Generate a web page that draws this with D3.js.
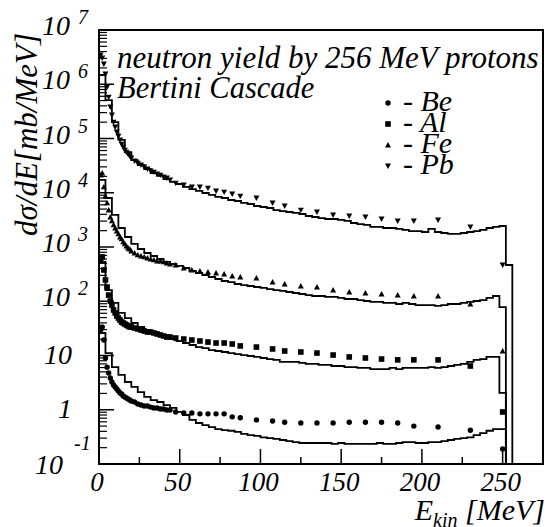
<!DOCTYPE html>
<html>
<head>
<meta charset="utf-8">
<title>neutron yield by 256 MeV protons</title>
<script src="https://d3js.org/d3.v7.min.js"></script>
<style>
  body { margin: 0; background: #fff; }
</style>
</head>
<body>
<svg width="552" height="527" id="mainsvg"></svg>
<script>
// lower edges of the 4 MeV bins of the Bertini cascade histograms
const binLow = [0,4,8,12,16,20,24,28,32,36,40,44,48,52,56,60,64,68,72,76,80,84,88,92,96,100,
  104,108,112,116,120,124,128,132,136,140,144,148,152,156,160,164,168,172,176,180,184,188,
  192,196,200,204,208,212,216,220,224,228,232,236,240,244,248,252];
const binWidth = 4;

// simulated spectra (scaled per target), mb/MeV
const histPb = [1.48e6,5.1e5,2.0e5,9.4e4,5.6e4,4.0e4,3.25e4,2.74e4,2.31e4,2.04e4,1.79e4,1.58e4,
  1.45e4,1.28e4,1.17e4,1.08e4,9.9e3,9.1e3,8.4e3,8.0e3,7.35e3,7.05e3,6.5e3,6.2e3,5.7e3,5.46e3,
  5.24e3,4.8e3,4.6e3,4.42e3,4.24e3,4.06e3,3.73e3,3.57e3,3.42e3,3.28e3,3.28e3,3.15e3,3.02e3,
  2.77e3,2.65e3,2.55e3,2.34e3,2.34e3,2.24e3,2.24e3,2.15e3,2.06e3,1.97e3,1.97e3,1.89e3,2.15e3,
  1.89e3,1.81e3,1.74e3,1.74e3,1.81e3,1.89e3,1.97e3,2.06e3,2.24e3,2.34e3,2.44e3,466];
const histFe = [1.72e4,8.0e3,3.9e3,2.24e3,1.53e3,1.14e3,918,776,683,601,530,486,447,410,361,332,
  305,280,257,236,226,208,199,191,183,176,168,161,155,148,142,136,130,125,125,120,120,115,110,
  110,105,101,97,97,93,93,89,93,89,85,85,85,82,85,89,89,93,97,101,105,115,125,78,0];
const histAl = [530,161,93,61,49,39.7,33.5,29.5,27.1,23.9,21.9,20.1,18.5,17.0,15.6,14.3,13.7,12.6,
  12.1,11.6,11.1,10.6,10.2,9.8,9.4,9.0,8.6,8.3,7.6,7.6,7.6,7.3,7.0,7.0,6.7,6.7,6.4,6.4,6.1,6.1,
  5.9,5.9,5.6,5.6,5.6,5.9,5.6,5.9,5.9,5.9,5.9,6.1,5.9,6.1,6.4,6.7,7.0,7.6,8.3,8.6,9.4,9.4,2.04,0];
const histBe = [26,11.1,6.1,4.4,3.25,2.63,2.12,1.72,1.51,1.39,1.22,1.08,0.91,0.80,0.65,0.57,0.52,
  0.48,0.44,0.42,0.41,0.39,0.36,0.34,0.33,0.31,0.30,0.29,0.277,0.265,0.254,0.244,0.244,0.244,
  0.244,0.244,0.234,0.244,0.234,0.234,0.234,0.234,0.234,0.244,0.234,0.234,0.244,0.254,0.254,
  0.244,0.244,0.254,0.254,0.265,0.277,0.29,0.30,0.31,0.34,0.37,0.41,0.44,0.44,0];

// measured points: neutron energies (MeV)
const dataE = [1,2,3,4,5,6,7,8,9,10,11,12,13,14,15,16,17,18,19,20,22,24,26,28,30,32,34,36,38,40,
  42,44,47.5,52.5,57.5,62.5,67.5,72.5,77.5,82.5,87.5,97.5,107.5,115,125,135,145,155,165,175,185,
  195,210,230,250];
const dataPb = [3.46e6,3.05e6,2.36e6,1.55e6,8.9e5,5.8e5,3.81e5,2.71e5,2.01e5,1.63e5,1.32e5,1.11e5,
  9.4e4,7.9e4,7.0e4,6.1e4,5.6e4,5.2e4,4.75e4,4.37e4,3.85e4,3.53e4,3.25e4,2.98e4,2.74e4,2.52e4,
  2.41e4,2.22e4,2.12e4,1.95e4,1.87e4,1.72e4,1.51e4,1.39e4,1.28e4,1.28e4,1.22e4,1.08e4,1.03e4,
  9.5e3,8.7e3,8.0e3,6.5e3,5.7e3,4.8e3,4.42e3,3.89e3,3.73e3,3.57e3,3.28e3,3.02e3,3.02e3,3.15e3,
  2.34e3,466];
const dataFe = [2.12e4,2.31e4,1.28e4,8.7e3,6.5e3,4.8e3,3.57e3,3.02e3,2.55e3,2.24e3,1.97e3,1.74e3,
  1.53e3,1.41e3,1.24e3,1.14e3,1.04e3,959,919,844,776,713,683,655,627,601,577,552,552,530,507,486,
  466,410,377,361,346,332,318,292,280,268,226,208,191,183,161,148,142,136,130,125,125,89,12.1];
const dataAl = [575,655,377,247,183,130,101,85,69,61,53.5,49.1,45.1,41.5,39.7,38.1,36.5,35.0,33.6,
  33.6,32.1,30.8,29.5,28.3,27.1,27.1,26.0,24.9,23.9,22.9,21.9,21.9,21.0,20.1,19.3,18.5,17.7,17.0,
  17.0,16.3,15.0,14.3,13.2,12.1,11.6,11.1,10.2,9.4,9.0,8.6,8.3,8.3,8.3,6.4,0.91];
const dataBe = [29.5,33.6,19.3,9.0,6.1,4.75,3.85,3.25,2.86,2.63,2.41,2.22,2.04,1.95,1.79,1.72,1.65,
  1.58,1.51,1.45,1.39,1.28,1.22,1.17,1.17,1.12,1.08,1.08,1.03,1.03,0.99,0.99,0.91,0.87,0.87,0.84,
  0.84,0.84,0.84,0.74,0.71,0.65,0.62,0.59,0.57,0.57,0.57,0.59,0.59,0.59,0.57,0.50,0.48,0.42,0.19];

const legendNames = ['Be', 'Al', 'Fe', 'Pb'];
const xTicks = [0, 50, 100, 150, 200, 250];
const yExponents = [-1, 0, 1, 2, 3, 4, 5, 6, 7];

const FONT = 'Liberation Serif';
const svg = d3.select('#mainsvg');
const width = +svg.attr('width');
const height = +svg.attr('height');
const margin = {top: 30, right: 9, bottom: 63, left: 99};
const innerWidth = width - margin.left - margin.right;
const innerHeight = height - margin.top - margin.bottom;

// every text goes through here so the serif italic face is set on the element itself
function label(parent, x, y, size, str) {
  return parent.append('text').attr('x', x).attr('y', y)
    .attr('font-family', FONT).attr('font-style', 'italic')
    .attr('font-size', size).attr('fill', '#000').text(str);
}

svg.append('rect').attr('width', width).attr('height', height).attr('fill', '#fff');

const xScale = d3.scaleLinear().domain([0, 275]).range([0, innerWidth]);
const yScale = d3.scaleLog().domain([0.1, 1e7]).range([innerHeight, 0]);

const g = svg.append('g').attr('transform', `translate(${margin.left},${margin.top})`);

g.append('clipPath').attr('id', 'plotclip')
  .append('rect').attr('width', innerWidth).attr('height', innerHeight);
const plot = g.append('g').attr('clip-path', 'url(#plotclip)');

// histograms drawn as steps
const yv = v => v > 0 ? yScale(v) : innerHeight;
function stepPath(vals) {
  const p = d3.path();
  p.moveTo(xScale(binLow[0]), yv(vals[0]));
  vals.forEach((v, i) => {
    const x1 = xScale(binLow[i] + binWidth);
    p.lineTo(x1, yv(v));
    if (i < vals.length - 1) p.lineTo(x1, yv(vals[i + 1]));
    else p.lineTo(x1, innerHeight);
  });
  return p.toString();
}
[histBe, histAl, histFe, histPb].forEach(h => {
  plot.append('path').attr('d', stepPath(h))
    .attr('fill', 'none').attr('stroke', '#000').attr('stroke-width', 1.8);
});

// markers
const shapes = {
  Be: sel => sel.append('circle').attr('r', 2.7),
  Al: sel => sel.append('rect').attr('x', -2.8).attr('y', -2.8).attr('width', 5.6).attr('height', 5.6),
  Fe: sel => sel.append('path').attr('d', 'M-3,2.4L3,2.4L0,-3Z'),
  Pb: sel => sel.append('path').attr('d', 'M-3,-2.4L3,-2.4L0,3Z')
};
const series = {Be: dataBe, Al: dataAl, Fe: dataFe, Pb: dataPb};
Object.keys(series).forEach(name => {
  const pts = plot.append('g').selectAll('g').data(series[name]).join('g')
    .attr('transform', (d, i) => `translate(${xScale(dataE[i])},${yScale(d)})`);
  shapes[name](pts).attr('fill', '#000');
});

// frame
g.append('rect').attr('width', innerWidth).attr('height', innerHeight)
  .attr('fill', 'none').attr('stroke', '#000').attr('stroke-width', 2);

// x ticks (inside)
const xMinor = [25, 75, 125, 175, 225];
g.selectAll('.xmaj').data(xTicks).join('line')
  .attr('x1', d => xScale(d)).attr('x2', d => xScale(d))
  .attr('y1', innerHeight).attr('y2', innerHeight - 15)
  .attr('stroke', '#000').attr('stroke-width', 1.5);
g.selectAll('.xmin').data(xMinor).join('line')
  .attr('x1', d => xScale(d)).attr('x2', d => xScale(d))
  .attr('y1', innerHeight).attr('y2', innerHeight - 7)
  .attr('stroke', '#000').attr('stroke-width', 1.5);
xTicks.forEach(d => {
  label(g, xScale(d) - 2, innerHeight + 27, 27, d).attr('text-anchor', 'middle');
});

// y ticks (inside, log)
const yMajor = yExponents.map(e => Math.pow(10, e));
const yMinor = [];
yExponents.slice(0, -1).forEach(e => {
  for (let k = 2; k <= 9; k++) yMinor.push(k * Math.pow(10, e));
});
g.selectAll('.ymaj').data(yMajor).join('line')
  .attr('x1', 0).attr('x2', 15).attr('y1', d => yScale(d)).attr('y2', d => yScale(d))
  .attr('stroke', '#000').attr('stroke-width', 1.5);
g.selectAll('.ymin').data(yMinor).join('line')
  .attr('x1', 0).attr('x2', 8).attr('y1', d => yScale(d)).attr('y2', d => yScale(d))
  .attr('stroke', '#000').attr('stroke-width', 1.2);

yExponents.forEach(e => {
  const ty = margin.top + yScale(Math.pow(10, e));
  if (e === 0) {
    label(svg, 72, ty + 8, 28, '1').attr('text-anchor', 'end');
  } else if (e === 1) {
    label(svg, 72, ty + 8, 28, '10').attr('text-anchor', 'end');
  } else if (e === -1) {
    label(svg, 63, ty + 10, 28, '10').attr('text-anchor', 'end');
    label(svg, 74, ty - 14, 20, '-1');
  } else {
    label(svg, 70, ty + 5, 28, '10').attr('text-anchor', 'end');
    label(svg, 78, ty - 6, 20, e);
  }
});

// axis titles
label(svg, 0, 0, 31, 'dσ/dE[mb/MeV]')
  .attr('transform', `translate(37,${margin.top + 3}) rotate(-90)`)
  .attr('text-anchor', 'end');

const xt = label(svg, 545, 520, 30, null).attr('text-anchor', 'end');
xt.append('tspan').text('E');
xt.append('tspan').attr('font-size', 20).attr('dy', 7).text('kin');
xt.append('tspan').attr('dy', -7).text(' [MeV]');

// labels inside the frame
label(svg, 117, 68, 31, 'neutron yield by 256 MeV protons');
label(svg, 117, 98, 30.5, 'Bertini Cascade');

// legend
legendNames.forEach((name, i) => {
  const ly = 103 + i * 21;
  const m = svg.append('g').attr('transform', `translate(388,${ly})`);
  shapes[name](m).attr('fill', '#000');
  label(svg, 403, ly + 8, 30, '- ' + name);
});
</script>
</body>
</html>
